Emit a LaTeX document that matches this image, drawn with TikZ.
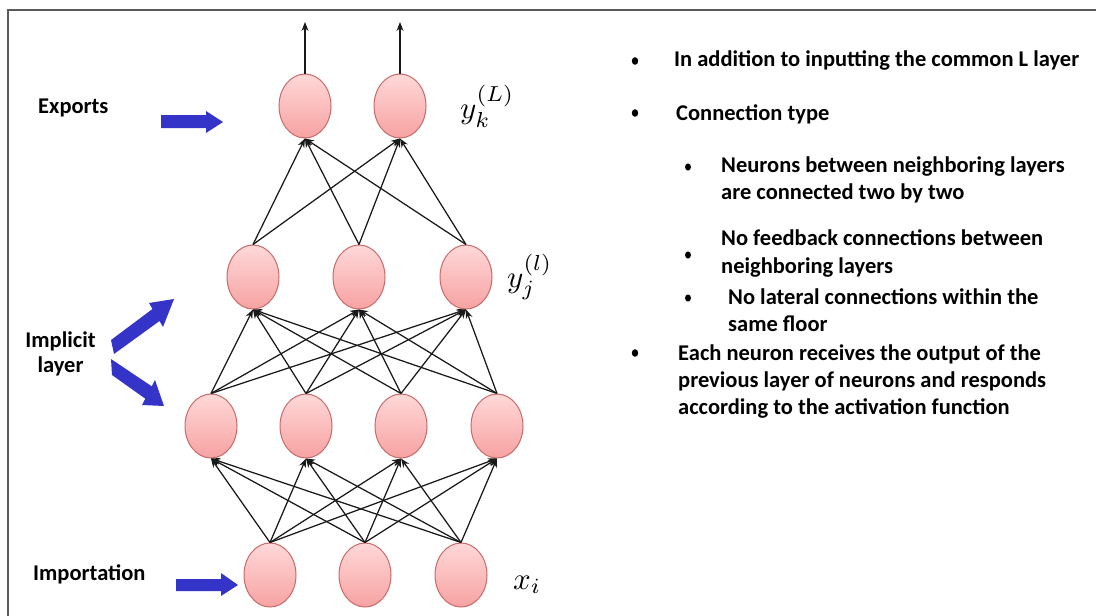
\documentclass[tikz,border=0pt]{standalone}
\usepackage{graphicx}
\usepackage{fontspec}
\setmainfont{Carlito}
\usetikzlibrary{arrows.meta,shapes.geometric}
\definecolor{ntop}{HTML}{FFD8D8}
\definecolor{nbot}{HTML}{F7A2A2}
\definecolor{nborder}{HTML}{C96A6A}
\definecolor{barrow}{HTML}{3434C8}
\definecolor{framec}{HTML}{5A5A5A}
\newcommand{\biglbl}[1]{\scalebox{3.1}{$#1$}}
\begin{document}
\begin{tikzpicture}[x=1pt,y=-1pt,
 neuron/.style={ellipse, minimum width=52pt, minimum height=64pt, inner sep=0pt, draw=nborder, line width=1pt, top color=ntop, bottom color=nbot},
 conn/.style={line width=1.25pt, draw=black!90, -{Stealth[length=9pt,width=7pt]}},
 txt/.style={anchor=base west, inner sep=0pt, font=\fontsize{22.5}{27}\selectfont\bfseries},
 bul/.style={fill=black, draw=none},
 bluearrow/.style={fill=barrow, draw=none},
 lbl/.style={anchor=base west, inner sep=0pt, font=\fontsize{10}{12}\selectfont}
]
\useasboundingbox (0,0) rectangle (1096,616);
\fill[white] (0,0) rectangle (1096,616);
\draw[framec, line width=1.5pt] (1096,10) -- (8,10) -- (8,616);

% neurons
\node[neuron] (t1) at (305,106) {};
\node[neuron] (t2) at (400,106) {};
\node[neuron] (h1) at (253,277) {};
\node[neuron] (h2) at (359,277) {};
\node[neuron] (h3) at (466,277) {};
\node[neuron] (g1) at (211,426) {};
\node[neuron] (g2) at (306,426) {};
\node[neuron] (g3) at (401,426) {};
\node[neuron] (g4) at (497,426) {};
\node[neuron] (i1) at (270,575) {};
\node[neuron] (i2) at (365,575) {};
\node[neuron] (i3) at (461,575) {};

% connections
\foreach \a in {i1,i2,i3}{\foreach \b in {g1,g2,g3,g4}{\draw[conn] (\a.north) -- (\b.south);}}
\foreach \a in {g1,g2,g3,g4}{\foreach \b in {h1,h2,h3}{\draw[conn] (\a.north) -- (\b.south);}}
\foreach \a in {h1,h2,h3}{\foreach \b in {t1,t2}{\draw[conn] (\a.north) -- (\b.south);}}
\coordinate (o1) at (305,22);
\coordinate (o2) at (400,22);
\draw[conn] (t1.north) -- (o1);
\draw[conn] (t2.north) -- (o2);

% math labels
\node[lbl] (lk) at (460,118) {\biglbl{y_k^{(L)}}};
\node[lbl] (lj) at (507,287) {\biglbl{y_j^{(l)}}};
\node[lbl] (li) at (513,589) {\biglbl{x_i}};

% left labels
\node[txt] (exp) at (38,113) {Exports};
\node[anchor=base, inner sep=0pt, align=center, font=\fontsize{22.5}{25}\selectfont\bfseries] (imp) at (60.5,372) {Implicit\\layer};
\node[txt] (inp) at (33,580) {Importation};

% blue arrows
\fill[bluearrow] (161,115) -- (206,115) -- (206,111) -- (223,122) -- (206,133) -- (206,128) -- (161,128) -- cycle;
\fill[bluearrow] (176,579) -- (221,579) -- (221,573) -- (238,585) -- (221,596) -- (221,591) -- (176,591) -- cycle;
\fill[bluearrow] (111,340) -- (152.5,309) -- (149,303) -- (174,299) -- (163,327) -- (159.5,321) -- (114,354) -- cycle;
\fill[bluearrow] (111,359) -- (151.7,386.3) -- (155,380) -- (164,406) -- (142,405) -- (145.3,398.7) -- (112,375) -- cycle;

% bullets
\fill[bul] (635,61) ellipse (3.2pt and 3.8pt);
\fill[bul] (635,113) ellipse (3.2pt and 3.8pt);
\fill[bul] (688,167) ellipse (3pt and 3.6pt);
\fill[bul] (688,255) ellipse (3pt and 3.6pt);
\fill[bul] (688,298) ellipse (3pt and 3.6pt);
\fill[bul] (635,353) ellipse (3.2pt and 3.8pt);

% right texts
\node[txt] (r1) at (674,66) {In addition to inputting the common L layer};
\node[txt] (r2) at (676,120) {Connection type};
\node[txt] (r3a) at (721,172) {Neurons between neighboring layers};
\node[txt] (r3b) at (721,199) {are connected two by two};
\node[txt] (r4a) at (721,245) {No feedback connections between};
\node[txt] (r4b) at (721,273) {neighboring layers};
\node[txt] (r5a) at (728,304) {No lateral connections within the};
\node[txt] (r5b) at (728,331) {same floor};
\node[txt] (r6a) at (678,360) {Each neuron receives the output of the};
\node[txt] (r6b) at (678,387) {previous layer of neurons and responds};
\node[txt] (r6c) at (678,414) {according to the activation function};
\end{tikzpicture}
\end{document}
